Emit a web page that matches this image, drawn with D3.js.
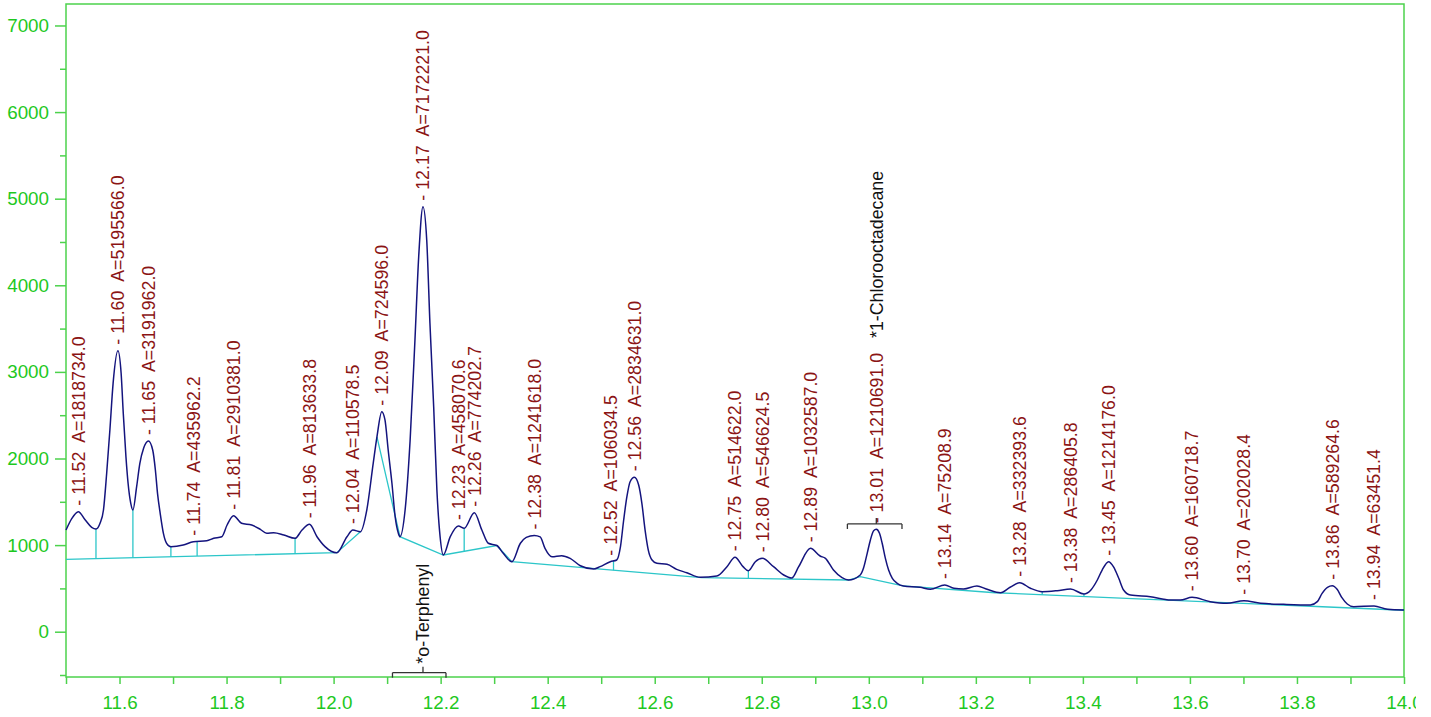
<!DOCTYPE html>
<html><head><meta charset="utf-8">
<script src="https://cdn.jsdelivr.net/npm/d3@7"></script>
<style>html,body{margin:0;padding:0;background:#fff;overflow:hidden}
text{font-family:"Liberation Sans",Arial,Helvetica,sans-serif}</style>
</head><body><svg id="c" width="1416" height="717"></svg>
<script>
// ---- Data (retention time in min, detector signal) ----
const traceTime = [11.500,11.511,11.523,11.536,11.548,11.556,11.5636,11.570,11.576,11.582,11.588,11.597,11.603,11.607,11.612,11.616,11.621,11.625,11.632,11.638,11.645,11.654,11.662,11.667,11.671,11.676,11.682,11.688,11.696,11.719,11.738,11.763,11.776,11.791,11.801,11.813,11.828,11.847,11.863,11.875,11.888,11.907,11.928,11.941,11.955,11.969,11.984,12.006,12.025,12.036,12.050,12.062,12.074,12.081,12.090,12.096,12.102,12.109,12.115,12.121,12.124,12.1336,12.143,12.152,12.159,12.167,12.174,12.180,12.187,12.193,12.199,12.205,12.218,12.233,12.244,12.263,12.277,12.289,12.305,12.317,12.333,12.349,12.360,12.375,12.386,12.395,12.408,12.426,12.442,12.461,12.486,12.498,12.517,12.529,12.536,12.542,12.548,12.554,12.562,12.570,12.576,12.582,12.588,12.595,12.604,12.623,12.641,12.660,12.685,12.716,12.735,12.750,12.765,12.775,12.788,12.801,12.822,12.841,12.856,12.869,12.891,12.909,12.919,12.934,12.950,12.962,12.984,12.990,12.997,13.003,13.009,13.014,13.020,13.025,13.031,13.037,13.044,13.053,13.065,13.096,13.115,13.142,13.159,13.177,13.202,13.221,13.246,13.264,13.282,13.302,13.324,13.352,13.377,13.402,13.415,13.427,13.436,13.448,13.457,13.467,13.476,13.489,13.526,13.564,13.582,13.604,13.638,13.669,13.701,13.732,13.775,13.825,13.838,13.847,13.857,13.866,13.875,13.884,13.894,13.906,13.944,13.969,14.000];
const traceSignal = [1174,1309,1386,1290,1205,1186,1252,1405,1829,2329,2868,3245,2984,2522,2021,1714,1483,1405,1675,1944,2118,2202,2098,1867,1598,1367,1136,1021,982,1001,1039,1051,1078,1097,1232,1340,1252,1232,1182,1136,1143,1117,1078,1174,1240,1097,982,912,1097,1174,1155,1405,1944,2250,2541,2445,2098,1714,1328,1136,1097,1405,2214,3368,4330,4908,4523,3561,2598,1636,1097,886,1097,1220,1194,1374,1174,1021,995,905,808,1021,1090,1112,1095,963,866,878,847,762,724,751,808,828,982,1290,1559,1732,1783,1694,1483,1174,943,828,790,778,720,681,628,643,751,859,751,704,808,847,751,655,620,751,963,874,847,712,624,597,655,732,905,1059,1166,1182,1136,1021,847,712,617,559,528,513,490,539,501,493,528,490,451,513,566,501,462,474,493,435,482,597,712,808,751,617,482,424,404,366,366,397,347,328,358,328,316,308,347,443,513,531,490,393,320,289,297,259,251];

// Integration baselines (time, signal)
const baselineA = [[11.5,836],[12.006,912],[12.050,1155]];
const baselineB = [[12.081,2250],[12.124,1097],[12.205,886],[12.305,995],[12.333,808],[12.688,624],[12.962,597],[12.984,635],[13.064,528],[13.236,450],[14.0,248]];
// Peak separation drop lines
const dropTime   = [11.556,11.625,11.696,11.745,11.928,12.244,12.523,12.775,13.324,13.402];
const dropTop    = [1186,1405,982,1042,1078,1194,818,704,462,435];
const dropBottom = [844,855,865,873,900,927,710,615,426,405];

// Peak table
const peakRT    = ["11.52","11.60","11.65","11.74","11.81","11.96","12.04","12.09","12.17","12.23","12.26","12.38","12.52","12.56","12.75","12.80","12.89","13.01","13.14","13.28","13.38","13.45","13.60","13.70","13.86","13.94"];
const peakApexT = [11.523,11.597,11.654,11.738,11.813,11.955,12.036,12.090,12.167,12.233,12.263,12.375,12.517,12.562,12.750,12.801,12.891,13.014,13.142,13.282,13.377,13.448,13.604,13.701,13.866,13.944];
const peakApexV = [1386,3245,2202,1039,1340,1240,1174,2541,4908,1220,1374,1112,808,1783,859,847,963,1182,539,566,493,808,397,358,531,297];
const peakArea  = ["1818734.0","5195566.0","3191962.0","435962.2","2910381.0","813633.8","110578.5","724596.0","7172221.0","458070.6","774202.7","1241618.0","106034.5","2834631.0","514622.0","546624.5","1032587.0","1210691.0","75208.9","332393.6","286405.8","1214176.0","160718.7","202028.4","589264.6","63451.4"];

// Named compounds (bracket start, centre, end, bracket level)
const compoundName  = ["*o-Terphenyl","*1-Chlorooctadecane"];
const compoundStart = [12.110,12.960];
const compoundMid   = [12.167,13.014];
const compoundEnd   = [12.210,13.062];
const compoundLevel = [-473,1244];

const xTickMajor = [11.6,11.8,12.0,12.2,12.4,12.6,12.8,13.0,13.2,13.4,13.6,13.8,14.0];
const xTickMinor = [11.5,11.7,11.9,12.1,12.3,12.5,12.7,12.9,13.1,13.3,13.5,13.7,13.9];
const yTickMajor = [0,1000,2000,3000,4000,5000,6000,7000];
const yTickMinor = [-500,500,1500,2500,3500,4500,5500,6500];

// ---- Drawing ----
const svg = d3.select("#c");
const x = d3.scaleLinear().domain([11.5,14.0]).range([66,1404]);
const y = d3.scaleLinear().domain([-523,7248]).range([677,4]);
const green = "#4cd24c", greenText = "#1ec81e";

// axes
const gx1 = svg.append("g").attr("transform","translate(0,677)")
  .call(d3.axisBottom(x).tickValues(xTickMajor).tickSize(7).tickSizeOuter(0).tickPadding(12).tickFormat(d3.format(".1f")));
const gx2 = svg.append("g").attr("transform","translate(0,677)")
  .call(d3.axisBottom(x).tickValues(xTickMinor).tickSize(7).tickSizeOuter(0).tickFormat(""));
const gy1 = svg.append("g").attr("transform","translate(66,0)")
  .call(d3.axisLeft(y).tickValues(yTickMajor).tickSize(11).tickSizeOuter(0).tickPadding(6).tickFormat(d3.format("d")));
const gy2 = svg.append("g").attr("transform","translate(66,0)")
  .call(d3.axisLeft(y).tickValues(yTickMinor).tickSize(6).tickSizeOuter(0).tickFormat(""));
[gx1,gx2,gy1,gy2].forEach(g=>{
  g.select(".domain").remove();
  g.selectAll(".tick line").attr("stroke",green).attr("stroke-width",1.5);
  g.selectAll(".tick text").attr("fill",greenText).style("font-size","18.8px");
});
// frame
svg.append("rect").attr("x",x(11.5)).attr("y",y(7248)).attr("width",x(14)-x(11.5)).attr("height",y(-523)-y(7248))
  .attr("fill","none").attr("stroke",green).attr("stroke-width",1.5);

// baselines
const bl = d3.line().x(d=>x(d[0])).y(d=>y(d[1]));
[baselineA,baselineB].forEach(seg=>{
  svg.append("path").attr("d",bl(seg)).attr("fill","none").attr("stroke","#2cc6c9").attr("stroke-width",1.3);
});
svg.append("g").selectAll("line").data(dropTime).join("line")
  .attr("x1",d=>x(d)).attr("x2",d=>x(d))
  .attr("y1",(d,i)=>y(dropTop[i])).attr("y2",(d,i)=>y(dropBottom[i]))
  .attr("stroke","#2cc6c9").attr("stroke-width",1.3);

// trace
const tr = d3.line().x(d=>x(traceTime[d])).y(d=>y(traceSignal[d])).curve(d3.curveMonotoneX);
svg.append("path").attr("d",tr(d3.range(traceTime.length))).attr("fill","none")
  .attr("stroke","#14147e").attr("stroke-width",1.5);

// compound brackets
compoundName.forEach((n,i)=>{
  const g = svg.append("g").attr("stroke","#333").attr("stroke-width",1.3).attr("fill","none");
  const yl = y(compoundLevel[i]);
  g.append("line").attr("x1",x(compoundStart[i])).attr("x2",x(compoundEnd[i])).attr("y1",yl).attr("y2",yl);
  g.append("line").attr("x1",x(compoundStart[i])).attr("x2",x(compoundStart[i])).attr("y1",yl).attr("y2",yl+5);
  g.append("line").attr("x1",x(compoundEnd[i])).attr("x2",x(compoundEnd[i])).attr("y1",yl).attr("y2",yl+5);
  g.append("line").attr("x1",x(compoundMid[i])).attr("x2",x(compoundMid[i])).attr("y1",yl).attr("y2",yl-6);
});
// o-Terphenyl label at bottom
{
  const px = x(compoundMid[0]), py = y(compoundLevel[0]) - 9;
  svg.append("text").attr("transform",`translate(${px},${py}) rotate(-90)`).attr("dy","0.35em")
    .attr("fill","#111").style("font-size","17.8px").text(compoundName[0]);
}

// peak labels
peakRT.forEach((rt,i)=>{
  const px = x(peakApexT[i]), py = y(peakApexV[i]) - 6;
  const t = svg.append("text").attr("transform",`translate(${px},${py}) rotate(-90)`).attr("dy","0.35em")
    .style("font-size","17.8px").style("white-space","pre");
  t.append("tspan").attr("fill","#8b1414").text(`- ${rt}  A=${peakArea[i]}`);
  if (rt === "13.01") t.append("tspan").attr("fill","#111").text(`   ${compoundName[1]}`);
});
</script></body></html>
